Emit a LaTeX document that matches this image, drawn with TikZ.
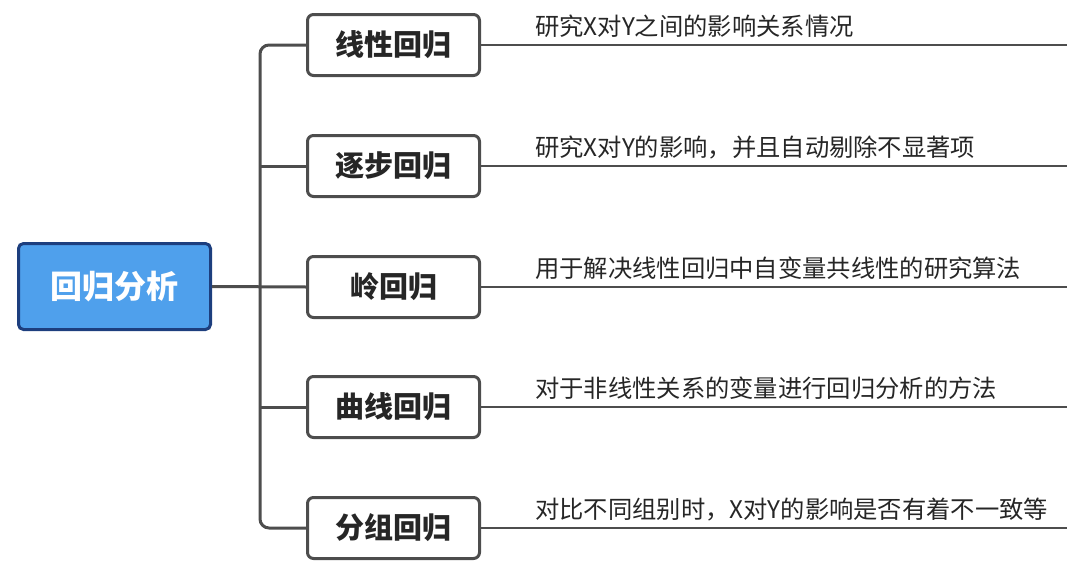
\documentclass[tikz,border=0pt]{standalone}
\usepackage{fontspec}
\setmainfont{Noto Sans CJK SC}
\usepackage{xcolor}
\definecolor{rootblue}{HTML}{4FA0EC}
\definecolor{rootedge}{HTML}{1D3E7E}
\definecolor{linegray}{HTML}{4D4D4D}
\newcommand{\desc}[2]{\node[desctext] at (535,#1) {#2}}

\begin{document}
\begin{tikzpicture}[x=1pt,y=-1pt,
    rootbox/.style={draw=rootedge,fill=rootblue,line width=3pt,rounded corners=5pt,
      minimum width=192pt,minimum height=86pt,text=white,font=\fontsize{32}{32}\selectfont\bfseries},
    childbox/.style={draw=linegray,fill=white,line width=3pt,rounded corners=6pt,
      minimum width=172pt,minimum height=61pt,text=black!85,font=\fontsize{29}{29}\selectfont\bfseries},
    conn/.style={draw=linegray,line width=3pt},
    thin/.style={draw=linegray,line width=1.2pt},
    desctext/.style={anchor=base west,inner sep=0pt,text=black!85,font=\fontsize{24.3}{24.3}\selectfont}]
    \useasboundingbox (0,0) rectangle (1080,573);

    \node[rootbox] (root) at (114.5,286.5) {回归分析};

    \node[childbox] (c1) at (393.5,45) {线性回归};
    \node[childbox] (c2) at (393.5,166) {逐步回归};
    \node[childbox] (c3) at (393.5,287) {岭回归};
    \node[childbox] (c4) at (393.5,407) {曲线回归};
    \node[childbox] (c5) at (393.5,528) {分组回归};

    \coordinate (trunk) at (260,287);

    % tree lines
    \draw[conn,rounded corners=9pt] (c1.west) -| (trunk) |- (c5.west);
    \draw[conn] (root.east) -- (c3.west);
    \draw[conn] (trunk |- c2.west) -- (c2.west);
    \draw[conn] (trunk |- c4.west) -- (c4.west);

    % description lines
    \coordinate (e1) at (1067,45);
    \coordinate (e2) at (1067,166);
    \coordinate (e3) at (1067,287);
    \coordinate (e4) at (1067,407);
    \coordinate (e5) at (1067,528);
    \draw[thin] (c1.east) -- (e1);
    \draw[thin] (c2.east) -- (e2);
    \draw[thin] (c3.east) -- (e3);
    \draw[thin] (c4.east) -- (e4);
    \draw[thin] (c5.east) -- (e5);

    \desc{35}{研究X对Y之间的影响关系情况};
    \desc{156}{研究X对Y的影响，并且自动剔除不显著项};
    \desc{277}{用于解决线性回归中自变量共线性的研究算法};
    \desc{397}{对于非线性关系的变量进行回归分析的方法};
    \desc{518}{对比不同组别时，X对Y的影响是否有着不一致等};
  \end{tikzpicture}
\end{document}
